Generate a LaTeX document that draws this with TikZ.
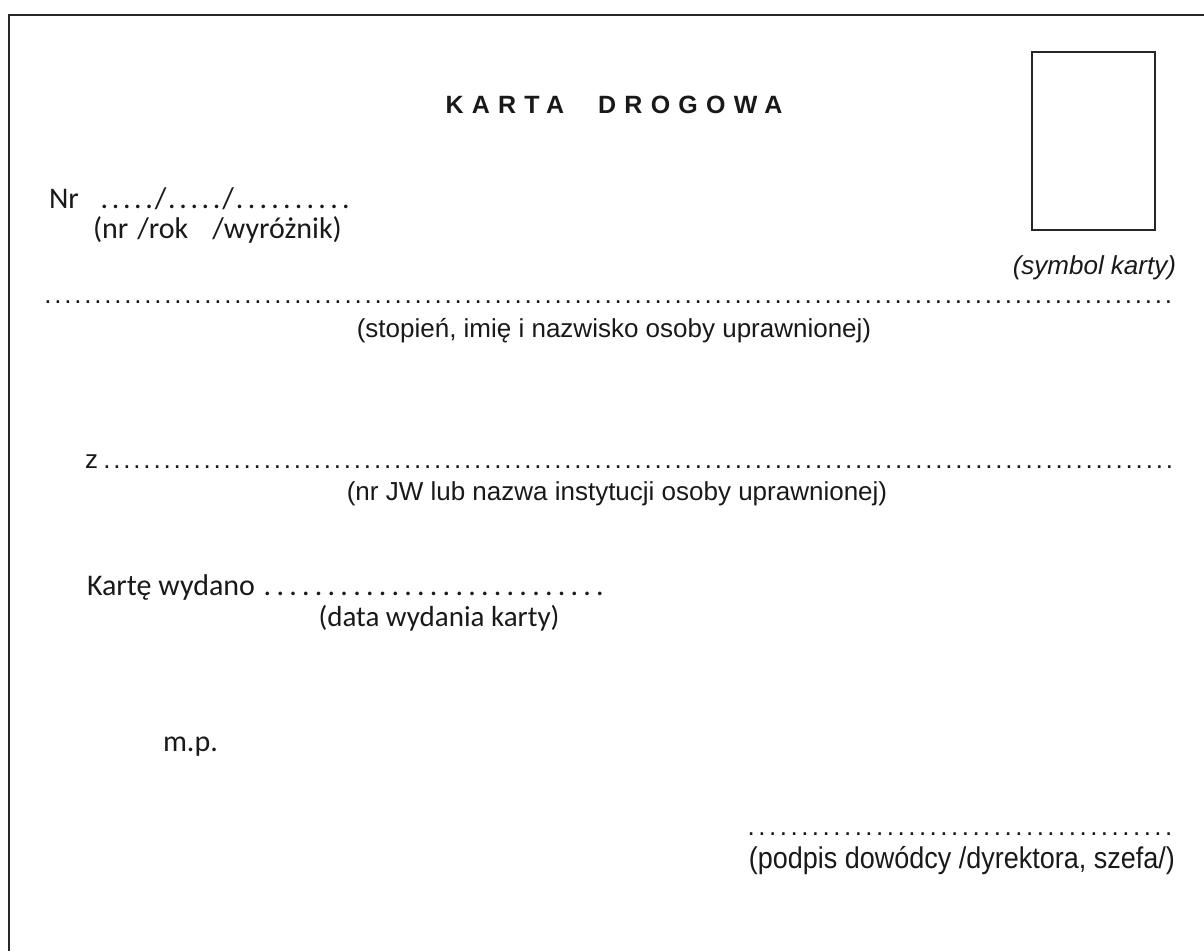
\documentclass[tikz,border=0pt]{standalone}
\usepackage{fontspec}
\setmainfont{Liberation Sans}
\newfontfamily\carfont{Carlito}
\newfontfamily\narrowfont[FakeStretch=0.9]{Liberation Sans}
\newcommand\dotrow[2]{\hbox to #1{\xleaders\hbox to #2{\hss.\hss}\hfill}}
\begin{document}
\begin{tikzpicture}[x=1pt,y=-1pt,
  every node/.style={inner sep=0pt, outer sep=0pt, text=black!90},
  main/.style={font=\fontsize{26}{30}\selectfont},
  carl/.style={font=\carfont\fontsize{30}{34}\selectfont},
  carlsmall/.style={font=\carfont\fontsize{29}{33}\selectfont},
  narrow/.style={font=\narrowfont\fontsize{30}{34}\selectfont},
  titlefont/.style={font=\bfseries\fontsize{25}{29}\selectfont},
  frame/.style={line width=2.5pt, draw=black!85},
  photo/.style={line width=2pt, draw=black!85}]
\useasboundingbox (0,0) rectangle (1204,951);
% outer frame (top and left edges)
\coordinate (fr1) at (1204,15);
\coordinate (fr2) at (9,15);
\coordinate (fr3) at (9,951);
\draw[frame] (fr1) -- (fr2) -- (fr3);
% photo box
\node[photo, draw, minimum width=123pt, minimum height=178pt, anchor=north west] (box) at (1032,52) {};
% title
\node[titlefont, anchor=base] (title) at (614,113) {\addfontfeature{LetterSpace=33}KARTA\hspace{34pt}DROGOWA};
% Nr line
\node[carl, anchor=base west] (nr) at (49,208) {Nr\hspace{20pt}\dotrow{56pt}{11pt}/\dotrow{56pt}{11pt}/\dotrow{118pt}{11.8pt}};
\node[carl, anchor=base west] (nrlab) at (93,238) {(nr\hspace{9pt}/rok\hspace{24pt}/wyróżnik)};
% symbol karty
\node[main, anchor=base east] (symbol) at (1176,274) {\itshape (symbol karty)};
% stopien line
\node[main, anchor=base west] (dots1) at (43,303) {\dotrow{1130pt}{10pt}};
\node[main, anchor=base] (stopien) at (614,337) {(stopień, imię i nazwisko osoby uprawnionej)};
% z line
\node[main, anchor=base west] (zline) at (85,468) {z\hspace{4pt}\dotrow{1072pt}{10pt}};
\node[main, anchor=base] (jw) at (617,500) {(nr JW lub nazwa instytucji osoby uprawnionej)};
% Karte wydano
\node[carl, anchor=base west] (wyd) at (87,595) {Kartę wydano\hspace{6pt}\dotrow{346pt}{12.4pt}};
\node[carlsmall, anchor=base] (data) at (439,626) {(data wydania karty)};
% m.p.
\node[carl, anchor=base west] (mp) at (163,751) {m.p.};
% podpis
\node[main, anchor=base east] (dots2) at (1174,835) {\dotrow{428pt}{10.7pt}};
\node[narrow, anchor=base east] (podpis) at (1175,868) {(podpis dowódcy /dyrektora, szefa/)};
\end{tikzpicture}
\end{document}
